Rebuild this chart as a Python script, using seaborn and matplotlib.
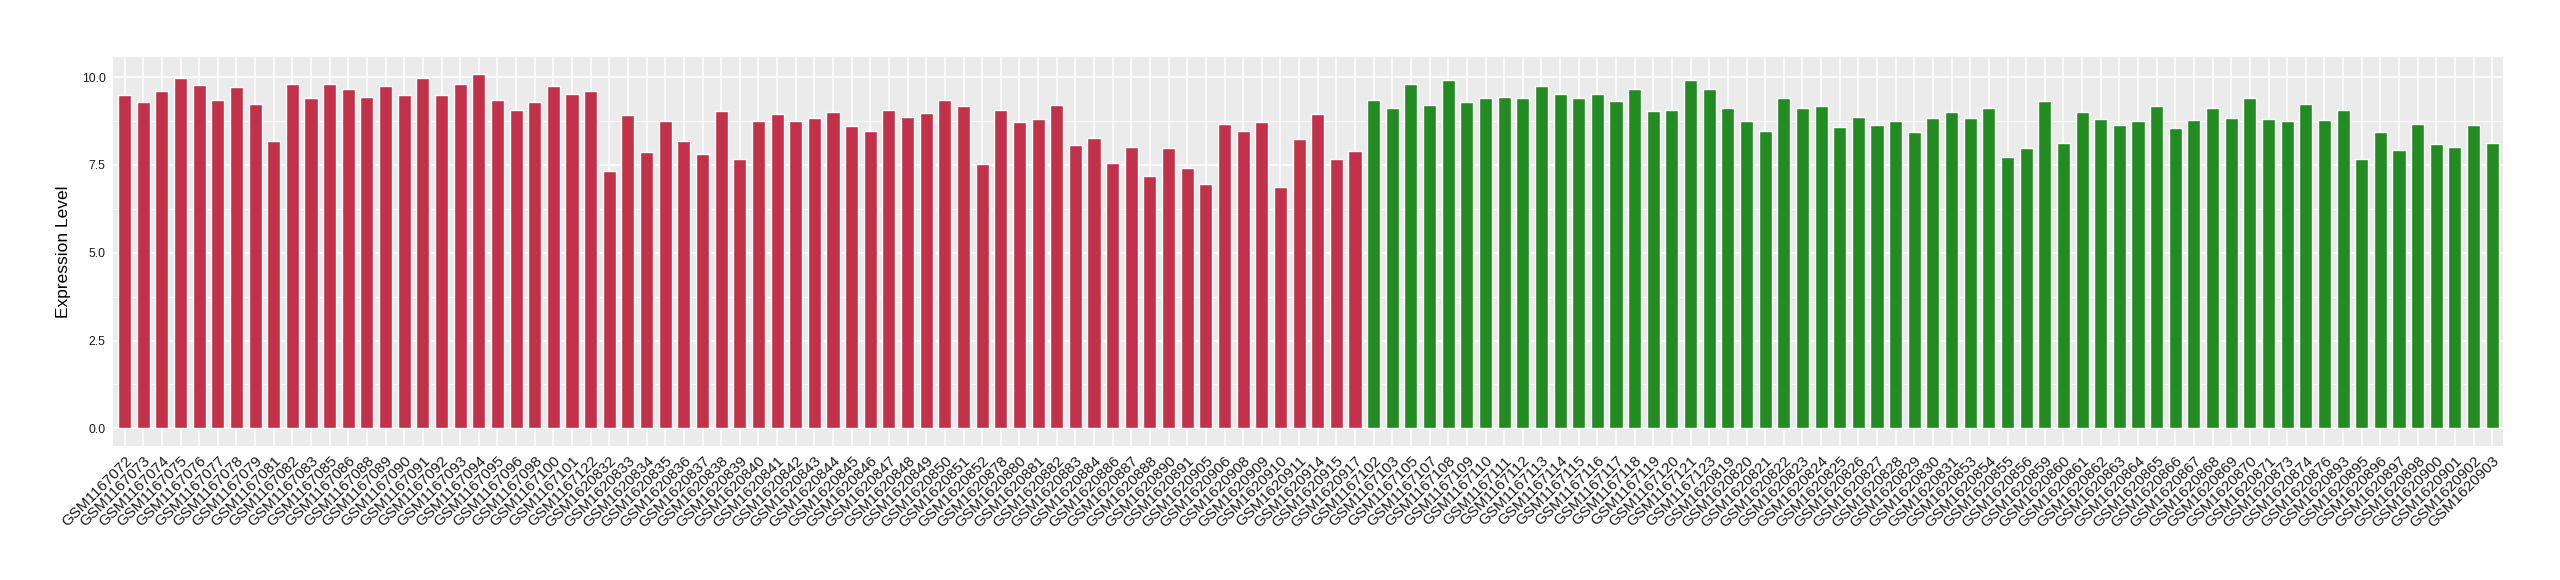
import numpy as np
import pandas as pd
import seaborn as sns
import matplotlib.pyplot as plt
import matplotlib.ticker as ticker

# sample ids, read left to right
group1_samples = [
    "GSM1167072", "GSM1167073", "GSM1167074", "GSM1167075", "GSM1167076",
    "GSM1167077", "GSM1167078", "GSM1167079", "GSM1167081", "GSM1167082",
    "GSM1167083", "GSM1167085", "GSM1167086", "GSM1167088", "GSM1167089",
    "GSM1167090", "GSM1167091", "GSM1167092", "GSM1167093", "GSM1167094",
    "GSM1167095", "GSM1167096", "GSM1167098", "GSM1167100", "GSM1167101",
    "GSM1167122", "GSM1620832", "GSM1620833", "GSM1620834", "GSM1620835",
    "GSM1620836", "GSM1620837", "GSM1620838", "GSM1620839", "GSM1620840",
    "GSM1620841", "GSM1620842", "GSM1620843", "GSM1620844", "GSM1620845",
    "GSM1620846", "GSM1620847", "GSM1620848", "GSM1620849", "GSM1620850",
    "GSM1620851", "GSM1620852", "GSM1620878", "GSM1620880", "GSM1620881",
    "GSM1620882", "GSM1620883", "GSM1620884", "GSM1620886", "GSM1620887",
    "GSM1620888", "GSM1620890", "GSM1620891", "GSM1620905", "GSM1620906",
    "GSM1620908", "GSM1620909", "GSM1620910", "GSM1620911", "GSM1620914",
    "GSM1620915", "GSM1620917",
]
group1_values = [
    9.48, 9.28, 9.62, 9.99, 9.79, 9.36, 9.73, 9.25, 8.19, 9.82,
    9.42, 9.82, 9.65, 9.45, 9.76, 9.48, 9.99, 9.48, 9.82, 10.08,
    9.36, 9.08, 9.28, 9.76, 9.51, 9.62, 7.34, 8.91, 7.88, 8.76,
    8.19, 7.82, 9.05, 7.68, 8.74, 8.96, 8.74, 8.85, 9.02, 8.62,
    8.48, 9.08, 8.88, 8.99, 9.36, 9.19, 7.54, 9.08, 8.71, 8.82,
    9.22, 8.08, 8.28, 7.57, 8.02, 7.20, 7.97, 7.40, 6.97, 8.68,
    8.48, 8.71, 6.88, 8.25, 8.94, 7.68, 7.91,
]

group2_samples = [
    "GSM1167102", "GSM1167103", "GSM1167105", "GSM1167107", "GSM1167108",
    "GSM1167109", "GSM1167110", "GSM1167111", "GSM1167112", "GSM1167113",
    "GSM1167114", "GSM1167115", "GSM1167116", "GSM1167117", "GSM1167118",
    "GSM1167119", "GSM1167120", "GSM1167121", "GSM1167123", "GSM1620819",
    "GSM1620820", "GSM1620821", "GSM1620822", "GSM1620823", "GSM1620824",
    "GSM1620825", "GSM1620826", "GSM1620827", "GSM1620828", "GSM1620829",
    "GSM1620830", "GSM1620831", "GSM1620853", "GSM1620854", "GSM1620855",
    "GSM1620856", "GSM1620859", "GSM1620860", "GSM1620861", "GSM1620862",
    "GSM1620863", "GSM1620864", "GSM1620865", "GSM1620866", "GSM1620867",
    "GSM1620868", "GSM1620869", "GSM1620870", "GSM1620871", "GSM1620873",
    "GSM1620874", "GSM1620876", "GSM1620893", "GSM1620895", "GSM1620896",
    "GSM1620897", "GSM1620898", "GSM1620900", "GSM1620901", "GSM1620902",
    "GSM1620903",
]
group2_values = [
    9.36, 9.13, 9.82, 9.22, 9.93, 9.28, 9.42, 9.45, 9.42, 9.76,
    9.53, 9.42, 9.51, 9.31, 9.65, 9.05, 9.08, 9.93, 9.65, 9.11,
    8.74, 8.48, 9.42, 9.11, 9.19, 8.59, 8.88, 8.65, 8.74, 8.45,
    8.85, 9.02, 8.85, 9.13, 7.74, 7.97, 9.31, 8.14, 9.02, 8.82,
    8.65, 8.74, 9.19, 8.56, 8.79, 9.13, 8.85, 9.42, 8.82, 8.74,
    9.25, 8.79, 9.08, 7.68, 8.45, 7.94, 8.68, 8.11, 8.02, 8.65,
    8.14,
]

group_colors = {"group1": "#C2314A", "group2": "#228B22"}


def main():
    df = pd.DataFrame({
        "sample": group1_samples + group2_samples,
        "value": group1_values + group2_values,
        "group": ["group1"] * len(group1_samples) + ["group2"] * len(group2_samples),
    })

    sns.set_style("white")
    plt.rcParams['font.family'] = ['Liberation Sans', 'DejaVu Sans']

    fig = plt.figure(figsize=(25.6, 5.8), dpi=100)
    ax = fig.add_axes([0.0443, 0.231, 0.9336, 0.671])
    ax.set_facecolor("#EBEBEB")

    sns.barplot(data=df, x="sample", y="value", hue="group", palette=group_colors,
                dodge=False, width=0.7, saturation=1, legend=False, ax=ax)

    n = len(df)
    ax.set_xlim(-0.6, n - 0.4)
    ax.set_ylim(-0.504, 10.58)

    # ggplot-ish grid
    ax.yaxis.set_major_locator(ticker.MultipleLocator(2.5))
    ax.yaxis.set_minor_locator(ticker.MultipleLocator(1.25))
    ax.yaxis.set_major_formatter(ticker.FormatStrFormatter("%.1f"))
    ax.set_axisbelow(True)
    ax.grid(which="major", axis="both", color="white", linewidth=1.1)
    ax.grid(which="minor", axis="y", color="white", linewidth=0.55)
    for s in ax.spines.values():
        s.set_visible(False)

    ax.tick_params(axis="both", which="major", length=3.5, width=0.8,
                   color="#333333", labelcolor="#1A1A1A", pad=2)
    ax.tick_params(axis="y", which="minor", length=0)
    ax.tick_params(axis="y", labelsize=8.8)
    ax.tick_params(axis="x", labelsize=11)
    plt.setp(ax.get_xticklabels(), rotation=45, ha="right", rotation_mode="anchor")

    ax.set_xlabel("")
    ax.set_ylabel("Expression Level", fontsize=12.5, color="black", labelpad=8)

    fig.savefig("out.png", dpi=100)


if __name__ == "__main__":
    main()
